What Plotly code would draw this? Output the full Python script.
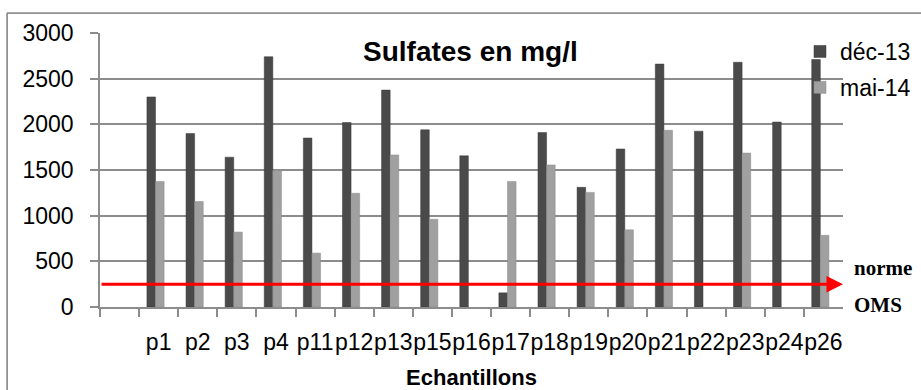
import plotly.graph_objects as go

samples = ["p1", "p2", "p3", "p4", "p11", "p12", "p13", "p15", "p16", "p17",
           "p18", "p19", "p20", "p21", "p22", "p23", "p24", "p26"]
dec13 = [2300, 1900, 1640, 2740, 1850, 2020, 2375, 1940, 1655, 155,
         1910, 1310, 1730, 2660, 1925, 2680, 2025, 2710]
mai14 = [1375, 1155, 820, 1495, 590, 1245, 1665, 960, None, 1375,
         1555, 1255, 845, 1935, None, 1685, None, 785]
norme_oms = 250
y_ticks = [0, 500, 1000, 1500, 2000, 2500, 3000]

categories = [" "] + samples
FONT = "Liberation Sans"
GRID = "#8c8c8c"

fig = go.Figure()
fig.add_trace(go.Bar(x=samples, y=dec13, name="déc-13", legendgroup="a",
                     marker=dict(color="#4a4a4a", line=dict(color="#3a3a3a", width=0.5)),
                     width=0.22, offset=-0.30))
fig.add_trace(go.Bar(x=samples, y=mai14, name="mai-14", legendgroup="b",
                     marker=dict(color="#a0a0a0", line=dict(color="#8a8a8a", width=0.5)),
                     width=0.22, offset=-0.08))

# chart-area frame (top and left edges; the rest lies outside the window)
fig.add_trace(go.Scatter(x=[0, 0, 1], y=[0, 1, 1], xaxis="x2", yaxis="y2",
                         mode="lines", line=dict(color=GRID, width=1.5),
                         cliponaxis=False, hoverinfo="skip", showlegend=False))

fig.update_layout(
    width=921, height=390,
    margin=dict(l=7, r=0, t=13, b=0, autoexpand=False),
    paper_bgcolor="white", plot_bgcolor="rgba(0,0,0,0)",
    font=dict(family=FONT, size=23, color="black"),
    barmode="group",
    showlegend=True,
    legend=dict(x=0.8676, y=0.9549, xanchor="left", yanchor="top",
                font=dict(size=23, family=FONT), traceorder="grouped",
                tracegroupgap=3, bgcolor="rgba(0,0,0,0)", itemwidth=30),
    xaxis=dict(type="category", categoryorder="array", categoryarray=categories,
               range=[-0.5, len(categories) - 0.5], tickson="boundaries",
               domain=[0.10175, 0.91466],
               ticks="outside", ticklen=8, tickcolor=GRID, tickwidth=1.5,
               showline=True, linecolor=GRID, linewidth=1.5, showgrid=False,
               tickangle=0, tickfont=dict(size=23), ticklabelstandoff=14,
               automargin=False,
               title=dict(text="<b>Echantillons</b>", font=dict(size=22), standoff=17)),
    yaxis=dict(range=[0, 3000], tickvals=y_ticks, ticks="outside", ticklen=8,
               domain=[0.22016, 0.94695],
               tickcolor=GRID, tickwidth=1.5, showline=True, linecolor=GRID,
               linewidth=1.5, showgrid=True, gridcolor=GRID, gridwidth=1.5,
               zeroline=False, tickfont=dict(size=23), ticklabelstandoff=12,
               automargin=False),
    xaxis2=dict(domain=[0, 1], range=[0, 1], anchor="y2", visible=False,
                fixedrange=True),
    yaxis2=dict(domain=[0, 1], range=[0, 1], anchor="x2", visible=False,
                fixedrange=True),
)

# outer chart border as layout shapes as well
fig.add_shape(type="line", xref="paper", yref="paper", x0=0, x1=1, y0=1, y1=1,
              line=dict(color=GRID, width=1.5), layer="above")
fig.add_shape(type="line", xref="paper", yref="paper", x0=0, x1=0, y0=0, y1=1,
              line=dict(color=GRID, width=1.5), layer="above")

# title
fig.add_annotation(text="<b>Sulfates en mg/l</b>", xref="paper", yref="paper",
                   x=0.5066, y=0.8966, showarrow=False, font=dict(size=28, family=FONT),
                   xanchor="center", yanchor="middle")

# norme OMS arrow
fig.add_annotation(x=1.0, y=norme_oms, xref="x domain", yref="y",
                   ax=0.0, ay=norme_oms, axref="x domain", ayref="y",
                   text="", showarrow=True, arrowhead=2, arrowsize=1.1,
                   arrowwidth=3, arrowcolor="#ff0000")
fig.add_annotation(text="<b>norme</b>", x=0.9245, y=430, xref="paper", yref="y",
                   showarrow=False, xanchor="left", yanchor="middle",
                   font=dict(family="Liberation Serif", size=21))
fig.add_annotation(text="<b>OMS</b>", x=0.9245, y=25, xref="paper", yref="y",
                   showarrow=False, xanchor="left", yanchor="middle",
                   font=dict(family="Liberation Serif", size=21))

fig.write_html("out.html", config={"displayModeBar": False},
               post_script="document.body.style.margin='0';document.body.style.overflow='hidden';")
